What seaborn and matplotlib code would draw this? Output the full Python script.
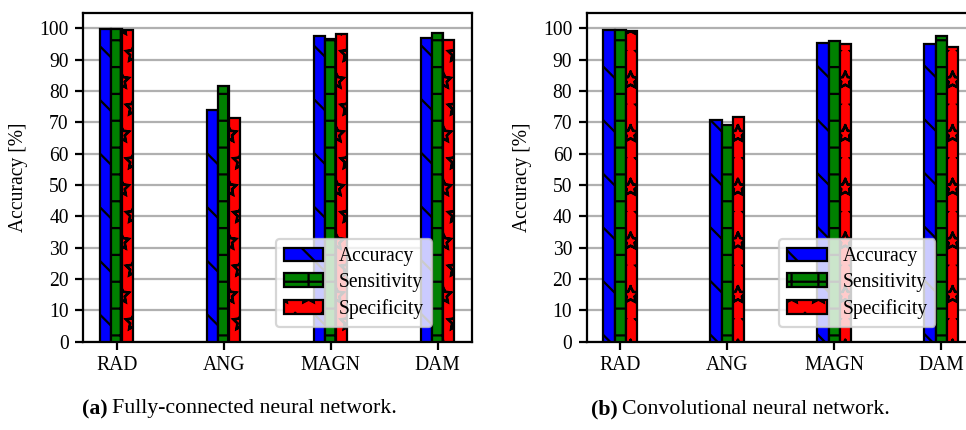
import numpy as np
import pandas as pd
import matplotlib
matplotlib.use('Agg')
import matplotlib.pyplot as plt
import matplotlib.hatch
import seaborn as sns

# values
categories = ['RAD', 'ANG', 'MAGN', 'DAM']
metric_names = ['Accuracy', 'Sensitivity', 'Specificity']

fc_accuracy = [99.7, 74.0, 97.4, 96.9]
fc_sensitivity = [99.9, 81.5, 96.7, 98.6]
fc_specificity = [99.5, 71.3, 98.2, 96.2]

cnn_accuracy = [99.6, 70.9, 95.4, 95.1]
cnn_sensitivity = [99.6, 69.0, 95.9, 97.5]
cnn_specificity = [99.3, 71.8, 95.1, 94.0]

captions = ['Fully-connected neural network.', 'Convolutional neural network.']
caption_tags = ['(a)', '(b)']

colors = ['blue', 'green', 'red']
hatches = ['\\', '+', '*']

sns.set_style('white')
plt.rcParams['font.family'] = ['Liberation Serif', 'DejaVu Serif']
plt.rcParams['hatch.linewidth'] = 1.0
for k in ['text.color', 'axes.labelcolor', 'xtick.color', 'ytick.color']:
    plt.rcParams[k] = 'black'
# outlined stars like the original
matplotlib.hatch.Stars.filled = False

FS = 8.8


def make_df(acc, sens, spec):
    rows = []
    for name, vals in zip(metric_names, [acc, sens, spec]):
        for c, v in zip(categories, vals):
            rows.append({'cat': c, 'metric': name, 'value': v})
    return pd.DataFrame(rows)


fc_df = make_df(fc_accuracy, fc_sensitivity, fc_specificity)
cnn_df = make_df(cnn_accuracy, cnn_sensitivity, cnn_specificity)

fig = plt.figure(figsize=(6.0, 430 / 161), dpi=161)
ax1 = fig.add_axes([83.3 / 966, 88.3 / 430, 388.4 / 966, 328.4 / 430])
ax2 = fig.add_axes([586.7 / 966, 88.3 / 430, 388.4 / 966, 328.4 / 430])

for ax, df in zip([ax1, ax2], [fc_df, cnn_df]):
    sns.barplot(data=df, x='cat', y='value', hue='metric', order=categories,
                hue_order=metric_names, palette=colors, width=0.31, gap=0,
                saturation=1, edgecolor='black', linewidth=1.0, legend=False,
                ax=ax, zorder=3)
    for cont, h in zip(ax.containers, hatches):
        for p in cont.patches:
            p.set_hatch(h)
    ax.set_ylim(0, 104.8)
    ax.set_xlim(-0.312, 3.318)
    ax.set_yticks(np.arange(0, 101, 10))
    ax.yaxis.grid(True, color='#b0b0b0', linewidth=1.0, zorder=0)
    ax.set_axisbelow(True)
    ax.set_xlabel('')
    ax.set_ylabel('Accuracy [%]', fontsize=FS, labelpad=5)
    ax.tick_params(axis='both', labelsize=FS, direction='out', length=3.5,
                   width=1.0, left=True, bottom=True, pad=3, color='black')
    for s in ax.spines.values():
        s.set_color('black')
        s.set_linewidth(1.0)
    handles = [cont.patches[0] for cont in ax.containers]
    ax.legend(handles, metric_names, loc='lower right',
              bbox_to_anchor=(0.898, 0.045), borderaxespad=0, fontsize=FS,
              framealpha=0.8, handlelength=2.0, labelspacing=0.35)

# captions under each panel
fig.text(108 / 966, 21 / 430, caption_tags[0], ha='right', va='center',
         fontsize=9.8, fontweight='bold')
fig.text(112 / 966, 21 / 430, captions[0], ha='left', va='center', fontsize=9.8)
fig.text(618 / 966, 21 / 430, caption_tags[1], ha='right', va='center',
         fontsize=9.8, fontweight='bold')
fig.text(622 / 966, 21 / 430, captions[1], ha='left', va='center', fontsize=9.8)

fig.savefig('out.png', dpi=161)
